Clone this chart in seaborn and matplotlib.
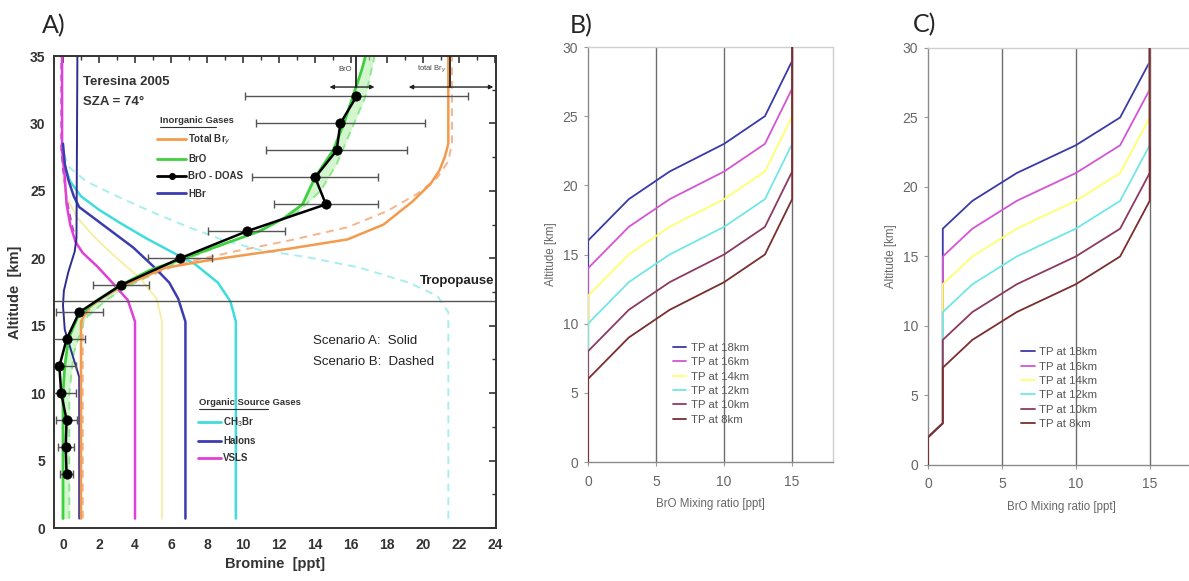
import numpy as np
import pandas as pd
import matplotlib
matplotlib.use("Agg")
import matplotlib.pyplot as plt
from matplotlib.lines import Line2D
import seaborn as sns

# ---------------- Panel A data (Bromine [ppt] vs Altitude [km]) ----------------
bry_x = [1.0, 1.0, 1.4, 2.3, 3.4, 5.7, 8.3, 12.5, 15.8, 17.8, 19.4, 20.4, 20.9, 21.2, 21.4, 21.4]
bry_y = [0.7, 15.3, 16.3, 17.2, 18.0, 19.3, 19.9, 20.7, 21.4, 22.5, 24.2, 25.5, 26.5, 27.5, 28.5, 35.0]
bryB_x = [1.1, 1.1, 1.6, 2.8, 4.5, 6.5, 9.5, 12.5, 15.8, 18.0, 19.7, 20.8, 21.4, 21.6, 21.6]
bryB_y = [0.7, 15.3, 16.5, 17.5, 18.5, 19.6, 20.5, 21.3, 22.3, 23.5, 24.8, 26.0, 27.2, 28.5, 35.0]

bro_x = [0.0, 0.0, 0.1, 0.3, 0.8, 1.8, 3.2, 4.8, 6.7, 8.8, 10.9, 12.3, 13.3, 14.0, 15.0, 15.6, 16.1, 16.6, 16.8]
bro_y = [0.7, 10.0, 12.0, 14.0, 15.6, 16.8, 18.0, 19.1, 20.0, 21.0, 22.0, 23.0, 24.0, 26.0, 28.0, 30.0, 32.0, 34.0, 35.0]
broB_x = [0.35, 0.35, 0.6, 1.2, 2.5, 4.0, 6.0, 8.5, 11.0, 13.0, 14.3, 15.2, 16.0, 16.8, 17.3]
broB_y = [0.7, 10.0, 13.0, 15.5, 17.0, 18.2, 19.5, 20.8, 22.1, 23.4, 25.0, 27.0, 29.5, 32.0, 35.0]

hbr_x = [0.9, 0.9, 0.1, 0.0, 0.05, 0.3, 0.65, 0.75, 0.8]
hbr_y = [0.7, 11.2, 14.7, 16.5, 17.6, 19.0, 20.5, 21.5, 35.0]

ch3br_x = [9.6, 9.6, 9.3, 8.6, 7.3, 6.0, 4.6, 3.2, 2.0, 1.0, 0.4, 0.1, 0.0]
ch3br_y = [0.7, 15.3, 16.8, 18.2, 19.6, 20.5, 21.5, 22.6, 23.6, 24.6, 25.7, 26.8, 27.8]
ch3brB_x = [21.4, 21.4, 20.8, 19.2, 16.5, 13.5, 11.0, 9.0, 7.0, 5.0, 3.0, 1.3, 0.3, 0.0]
ch3brB_y = [0.7, 16.0, 17.2, 18.2, 19.3, 20.1, 20.6, 21.3, 22.3, 23.4, 24.6, 25.7, 26.8, 28.0]

halon_x = [6.8, 6.8, 6.4, 5.9, 5.1, 3.9, 2.6, 1.5, 0.9, 0.6, 0.3, 0.1, 0.0]
halon_y = [0.7, 15.3, 17.0, 18.2, 19.3, 20.8, 22.1, 23.2, 23.8, 24.6, 25.8, 27.0, 28.5]

vsls_x = [4.0, 4.0, 3.6, 2.6, 1.9, 1.1, 0.7, 0.4, 0.2, 0.1, -0.05, -0.05]
vsls_y = [0.7, 15.3, 16.9, 18.4, 19.4, 20.4, 21.2, 22.5, 24.0, 26.0, 28.0, 35.0]
vslsB_x = [1.1, 0.8, 0.5, 0.2, 0.0, -0.1, -0.1]
vslsB_y = [20.4, 21.0, 22.5, 24.5, 26.5, 28.0, 35.0]

pale_x = [5.5, 5.5, 5.2, 4.3, 3.0, 1.8, 0.8, 0.2, 0.0]
pale_y = [0.7, 15.3, 17.0, 18.5, 20.0, 21.5, 23.0, 24.5, 26.0]

doas_x = [0.2, 0.15, 0.2, -0.1, -0.2, 0.2, 0.9, 3.2, 6.5, 10.2, 14.6, 14.0, 15.2, 15.4, 16.3]
doas_y = [4, 6, 8, 10, 12, 14, 16, 18, 20, 22, 24, 26, 28, 30, 32]
doas_err = [0.35, 0.45, 0.6, 0.8, 0.9, 1.0, 1.3, 1.55, 1.8, 2.15, 2.9, 3.5, 3.9, 4.7, 6.2]

tropopause = 16.85
bro_range = [14.8, 16.25, 17.3]      # left, centre, right (ppt)
bry_range = [19.2, 21.5, 23.9]

# ---------------- Panels B and C data ----------------
tp_labels = ["TP at 18km", "TP at 16km", "TP at 14km", "TP at 12km", "TP at 10km", "TP at 8km"]
tp_colors = ["#3a3aa8", "#d455d4", "#ffff6e", "#72e6e6", "#8c3a62", "#7a2e2e"]

b_x = [0, 0, 3, 6, 10, 13, 15, 15]
b_y = {
    "TP at 18km": [0, 16, 19, 21, 23, 25, 29, 30],
    "TP at 16km": [0, 14, 17, 19, 21, 23, 27, 30],
    "TP at 14km": [0, 12, 15, 17, 19, 21, 25, 30],
    "TP at 12km": [0, 10, 13, 15, 17, 19, 23, 30],
    "TP at 10km": [0, 8, 11, 13, 15, 17, 21, 30],
    "TP at 8km":  [0, 6, 9, 11, 13, 15, 19, 30],
}
c_x = [0, 0, 1, 1, 3, 6, 10, 13, 15, 15]
c_y = {
    "TP at 18km": [0, 2, 3, 17, 19, 21, 23, 25, 29, 30],
    "TP at 16km": [0, 2, 3, 15, 17, 19, 21, 23, 27, 30],
    "TP at 14km": [0, 2, 3, 13, 15, 17, 19, 21, 25, 30],
    "TP at 12km": [0, 2, 3, 11, 13, 15, 17, 19, 23, 30],
    "TP at 10km": [0, 2, 3, 9, 11, 13, 15, 17, 21, 30],
    "TP at 8km":  [0, 2, 3, 7, 9, 11, 13, 15, 19, 30],
}

# ---------------- style ----------------
sns.set_theme(style="white")
plt.rcParams["font.family"] = ["Liberation Sans", "DejaVu Sans"]
plt.rcParams["mathtext.fontset"] = "custom"
plt.rcParams["mathtext.rm"] = "Liberation Sans"
plt.rcParams["mathtext.bf"] = "Liberation Sans:bold"

fig = plt.figure(figsize=(11.89, 5.81), dpi=100)
axA = fig.add_axes([0.0454, 0.0912, 0.3718, 0.8124])
axB = fig.add_axes([0.4945, 0.2048, 0.2061, 0.7143])
axC = fig.add_axes([0.7805, 0.1997, 0.2237, 0.7177])


def prof(ax, x, y, color, lw=1.8, ls="-", alpha=1.0, z=2):
    sns.lineplot(x=x, y=y, ax=ax, sort=False, estimator=None, color=color,
                 lw=lw, linestyle=ls, alpha=alpha, zorder=z)


# ---------------- Panel A ----------------
ax = axA
prof(ax, pale_x, pale_y, "#f6eea0", lw=1.3)
prof(ax, ch3brB_x, ch3brB_y, "#a8eeee", lw=1.4, ls=(0, (4, 3)))
prof(ax, bryB_x, bryB_y, "#f5b48c", lw=1.4, ls=(0, (4, 3)))
prof(ax, vslsB_x, vslsB_y, "#b050c8", lw=1.2, ls=(0, (4, 3)))
yy = np.linspace(0.7, 35, 200)
ax.fill_betweenx(yy, np.interp(yy, bro_y, bro_x), np.interp(yy, broB_y, broB_x),
                 color="#b8f0b0", alpha=0.6, lw=0, zorder=1)
prof(ax, broB_x, broB_y, "#8ee88e", lw=1.4, ls=(0, (4, 3)))
prof(ax, ch3br_x, ch3br_y, "#3fdcdc", lw=1.8)
prof(ax, vsls_x, vsls_y, "#e040d8", lw=1.8)
prof(ax, halon_x, halon_y, "#3c3cb0", lw=1.8)
prof(ax, hbr_x, hbr_y, "#2e2e90", lw=1.4)
prof(ax, bry_x, bry_y, "#f39a4c", lw=1.8)
prof(ax, bro_x, bro_y, "#3fcf3f", lw=2.0)

ax.errorbar(doas_x, doas_y, xerr=doas_err, fmt="none", ecolor="#555555",
            elinewidth=1.0, capsize=3, capthick=1.0, zorder=3)
prof(ax, doas_x, doas_y, "black", lw=1.8, z=4)
sns.scatterplot(x=doas_x, y=doas_y, ax=ax, color="black", s=45, edgecolor="black",
                zorder=5, legend=False)

ax.axhline(tropopause, color="#555555", lw=1.0, zorder=2)

ax.set_xlim(-0.5, 24.05)
ax.set_ylim(0, 35)
ax.set_xticks(np.arange(0, 25, 2))
ax.set_xticks(np.arange(0, 25, 1), minor=True)
ax.set_yticks(np.arange(0, 36, 5))
ax.set_yticks(np.arange(0, 36, 2.5), minor=True)
ax.tick_params(which="both", direction="in", top=True, right=True, color="#333333")
ax.tick_params(which="major", length=5, width=1.2, labelsize=10, labelcolor="#333333")
ax.tick_params(which="minor", length=3, width=1.0)
ax.tick_params(axis="x", pad=7)
ax.tick_params(axis="y", pad=6)
for lbl in ax.get_xticklabels() + ax.get_yticklabels():
    lbl.set_fontweight("bold")
for s in ax.spines.values():
    s.set_color("#333333")
    s.set_linewidth(1.4)
ax.set_xlabel("Bromine  [ppt]", fontsize=10.5, fontweight="bold", color="#333333", labelpad=4)
ax.set_ylabel("Altitude  [km]", fontsize=10.5, fontweight="bold", color="#333333", labelpad=6)

tc = "#333333"
ax.text(0.065, 0.945, "Teresina 2005", transform=ax.transAxes, fontsize=9.5,
        fontweight="bold", color=tc, va="center")
ax.text(0.065, 0.903, "SZA = 74°", transform=ax.transAxes, fontsize=9.5,
        fontweight="bold", color=tc, va="center")
ax.text(0.997, 0.523, "Tropopause", transform=ax.transAxes, fontsize=9.5,
        fontweight="bold", color="#222222", ha="right", va="center")
ax.text(0.587, 0.397, "Scenario A:  Solid", transform=ax.transAxes, fontsize=9.5,
        color="#222222", va="center")
ax.text(0.587, 0.351, "Scenario B:  Dashed", transform=ax.transAxes, fontsize=9.5,
        color="#222222", va="center")

# BrO / total Bry range arrows at top
for rng, lab in [(bro_range, "BrO"), (bry_range, "total Br$_y$")]:
    ax.annotate("", xy=(rng[0], 32.7), xytext=(rng[2], 32.7),
                arrowprops=dict(arrowstyle="<|-|>", color="#222222", lw=1.0,
                                mutation_scale=6, shrinkA=0, shrinkB=0), zorder=6)
    ax.plot([rng[1], rng[1]], [32.7, 35], color="#222222", lw=1.3, zorder=6)
    ax.text(rng[1] - 0.2, 34.0, lab, fontsize=5.5, color="#444444", ha="right", va="center")

# Inorganic legend
leg_kw = dict(frameon=False, fontsize=7, handletextpad=0.2, borderpad=0,
              borderaxespad=0, prop={"weight": "bold", "size": 7})
h1 = [Line2D([], [], color="#f39a4c", lw=2),
      Line2D([], [], color="#3fcf3f", lw=2),
      Line2D([], [], color="black", lw=2, marker="o", markersize=4),
      Line2D([], [], color="#3c3cb0", lw=2)]
l1 = ["Total Br$_y$", "BrO", "BrO - DOAS", "HBr"]
leg1 = ax.legend(h1, l1, loc="upper left", bbox_to_anchor=(0.233, 0.838),
                 handlelength=3.0, labelspacing=0.75, frameon=False,
                 handletextpad=0.2, borderpad=0, borderaxespad=0,
                 prop={"weight": "bold", "size": 7})
for t in leg1.get_texts():
    t.set_color("#333333")
ax.add_artist(leg1)
h2 = [Line2D([], [], color="#3fdcdc", lw=2),
      Line2D([], [], color="#3c3cb0", lw=2),
      Line2D([], [], color="#e040d8", lw=2)]
l2 = ["CH$_3$Br", "Halons", "VSLS"]
leg2 = ax.legend(h2, l2, loc="upper left", bbox_to_anchor=(0.325, 0.238),
                 handlelength=2.4, labelspacing=0.7, frameon=False,
                 handletextpad=0.2, borderpad=0, borderaxespad=0,
                 prop={"weight": "bold", "size": 7})
for t in leg2.get_texts():
    t.set_color("#333333")

for (xa, ya, txt, ww) in [(0.24, 0.853, "Inorganic Gases", 0.127),
                         (0.328, 0.256, "Organic Source Gases", 0.155)]:
    ax.text(xa, ya, txt, transform=ax.transAxes, fontsize=6.8, fontweight="bold",
            color="#333333", va="bottom")
    ax.plot([xa, xa + ww], [ya - 0.004, ya - 0.004], transform=ax.transAxes,
            color="#333333", lw=0.8)


# ---------------- Panels B and C ----------------
def tp_panel(ax, xs, ydict, leg_anchor):
    for v in [5, 10, 15]:
        ax.axvline(v, color="#6e6e6e", lw=1.0, zorder=1)
    for lab, col in zip(tp_labels, tp_colors):
        sns.lineplot(x=xs, y=ydict[lab], ax=ax, sort=False, estimator=None,
                     color=col, lw=1.3, label=lab, zorder=3)
    ax.set_xlim(0, 18)
    ax.set_ylim(0, 30)
    ax.set_xticks([0, 5, 10, 15])
    ax.set_yticks(np.arange(0, 31, 5))
    ax.tick_params(direction="out", length=3, width=0.8, color="#999999",
                   labelsize=10, labelcolor="#666666", left=True, bottom=True)
    ax.tick_params(axis="x", pad=6)
    ax.tick_params(axis="y", pad=4)
    ax.spines["left"].set_color("#8a8a8a")
    ax.spines["bottom"].set_color("#8a8a8a")
    ax.spines["top"].set_color("#cfcfcf")
    ax.spines["right"].set_color("#cfcfcf")
    for s in ax.spines.values():
        s.set_linewidth(1.0)
    ax.set_xlabel("BrO Mixing ratio [ppt]", fontsize=8.3, color="#666666", labelpad=7)
    ax.set_ylabel("Altitude [km]", fontsize=8.3, color="#666666", labelpad=4)
    leg = ax.legend(loc="upper left", bbox_to_anchor=leg_anchor, frameon=False,
                    fontsize=8.2, handlelength=1.2, handletextpad=0.4,
                    labelspacing=0.38, borderpad=0, borderaxespad=0)
    for t in leg.get_texts():
        t.set_color("#555555")


tp_panel(axB, b_x, b_y, (0.345, 0.287))
tp_panel(axC, c_x, c_y, (0.35, 0.282))

# panel letters
fig.text(42 / 1189, 1 - 33 / 581, "A)", fontsize=18, family=["Lato", "DejaVu Sans"], va="baseline")
fig.text(570 / 1189, 1 - 33 / 581, "B)", fontsize=18, family=["Lato", "DejaVu Sans"], va="baseline")
fig.text(913 / 1189, 1 - 32 / 581, "C)", fontsize=18, family=["Lato", "DejaVu Sans"], va="baseline")

fig.savefig("out.png", dpi=100, facecolor="white")
